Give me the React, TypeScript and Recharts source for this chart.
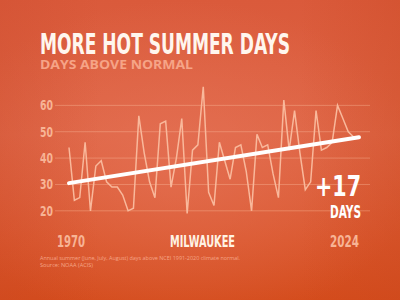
import React from "react";
import { LineChart, Line, XAxis, YAxis, CartesianGrid, ReferenceLine } from "recharts";

const years = [
  1970, 1971, 1972, 1973, 1974, 1975, 1976, 1977, 1978, 1979,
  1980, 1981, 1982, 1983, 1984, 1985, 1986, 1987, 1988, 1989,
  1990, 1991, 1992, 1993, 1994, 1995, 1996, 1997, 1998, 1999,
  2000, 2001, 2002, 2003, 2004, 2005, 2006, 2007, 2008, 2009,
  2010, 2011, 2012, 2013, 2014, 2015, 2016, 2017, 2018, 2019,
  2020, 2021, 2022, 2023, 2024,
];
const daysAboveNormal = [
  44, 24, 25, 46, 20, 37, 39, 31, 29, 29,
  26, 20, 21, 56, 42, 31, 25, 53, 54, 29,
  40, 55, 19, 43, 45, 67, 27, 22, 46, 39,
  32, 44, 45, 35, 20, 49, 44, 45, 34, 25,
  62, 43, 58, 42, 28, 31, 58, 43, 44, 46,
  60, 55, 50, 48, 48,
];
const trendStart = 30.5;
const trendEnd = 47.9;
const yTicks = [20, 30, 40, 50, 60];

const title = "MORE HOT SUMMER DAYS";
const subtitle = "DAYS ABOVE NORMAL";
const city = "MILWAUKEE";
const changeLabel = "+17";
const changeUnit = "DAYS";
const note1 = "Annual summer (June, July, August) days above NCEI 1991-2020 climate normal.";
const note2 = "Source: NOAA (ACIS)";

const data = years.map((y, i) => ({ year: y, days: daysAboveNormal[i] }));

const COND = "'Liberation Sans Narrow', 'DejaVu Sans Condensed', 'Roboto', sans-serif";
const PEACH = "#f7b496";

const YTick = (props: any) => {
  const { x, y, payload } = props;
  return (
    <text x={x} y={y + 5} textAnchor="end" fill={PEACH} fontFamily={COND} fontWeight={700} fontSize={14}
      textLength={13} lengthAdjust="spacingAndGlyphs">
      {payload.value}
    </text>
  );
};

export default function App() {
  return (
    <div style={{ position: "fixed", left: 0, top: 0, width: 400, height: 300, overflow: "hidden",
      background: "linear-gradient(180deg, #da5a3b 0%, #de6443 45%, #d9552a 80%, #d44c1c 100%)" }}>
      <div style={{ position: "absolute", inset: 0,
        background: "radial-gradient(ellipse 60% 55% at 45% 55%, rgba(232,120,95,0.55), rgba(232,120,95,0) 100%)" }} />
      <div style={{ position: "absolute", inset: 0,
        background: "linear-gradient(90deg, rgba(200,70,40,0.25) 0%, rgba(0,0,0,0) 25%, rgba(0,0,0,0) 75%, rgba(200,70,30,0.3) 100%)" }} />
      <div style={{ position: "absolute", left: 0, top: 0 }}>
        <LineChart width={400} height={300} data={data} margin={{ top: 79, right: 30, bottom: 76, left: 25 }}>
          <CartesianGrid vertical={false} horizontalValues={yTicks} stroke="rgba(255,200,170,0.35)" strokeWidth={1} />
          <XAxis dataKey="year" type="number" domain={[1970, 2024]} hide padding={{ left: 14, right: 11 }} />
          <YAxis domain={[15, 70]} ticks={yTicks} width={30} axisLine={false} tickLine={false}
            tickSize={0} tickMargin={2} tick={<YTick />} interval={0} />
          <Line type="linear" dataKey="days" stroke="#f9b89b" strokeWidth={1.5} dot={false}
            isAnimationActive={false} />
          <ReferenceLine segment={[{ x: 1970, y: trendStart }, { x: 2024, y: trendEnd }]}
            stroke="#ffffff" strokeWidth={4} strokeLinecap="round" ifOverflow="visible" />
        </LineChart>
      </div>
      <svg width={400} height={300} style={{ position: "absolute", left: 0, top: 0, pointerEvents: "none" }}>
        <text x={40} y={53.5} fill="#fff6ee" fontFamily={COND} fontWeight={700} fontSize={28}
          textLength={250} lengthAdjust="spacingAndGlyphs">{title}</text>
        <text x={40} y={69} fill="#f6a487" fontFamily="'Open Sans', 'Noto Sans', sans-serif" fontWeight={700} fontSize={12}
          textLength={153} lengthAdjust="spacingAndGlyphs">{subtitle}</text>
        <text x={315} y={195.5} fill="#ffffff" fontFamily={COND} fontWeight={700} fontSize={29}
          textLength={46} lengthAdjust="spacingAndGlyphs">{changeLabel}</text>
        <text x={330} y={217.5} fill="#ffffff" fontFamily={COND} fontWeight={700} fontSize={17}
          textLength={31} lengthAdjust="spacingAndGlyphs">{changeUnit}</text>
        <text x={57} y={246.7} fill={PEACH} fontFamily={COND} fontWeight={700} fontSize={16}
          textLength={28} lengthAdjust="spacingAndGlyphs">{years[0]}</text>
        <text x={170} y={246.7} fill="#fff3e4" fontFamily={COND} fontWeight={700} fontSize={16}
          textLength={65} lengthAdjust="spacingAndGlyphs">{city}</text>
        <text x={330} y={246.7} fill={PEACH} fontFamily={COND} fontWeight={700} fontSize={16}
          textLength={29} lengthAdjust="spacingAndGlyphs">{years[years.length - 1]}</text>
        <text x={40} y={260} fill="#f5a588" fontFamily="'Open Sans', sans-serif" fontSize={5.5}
          textLength={200} lengthAdjust="spacingAndGlyphs">{note1}</text>
        <text x={40} y={267.3} fill="#f5a588" fontFamily="'Open Sans', sans-serif" fontSize={5.5}
          textLength={53} lengthAdjust="spacingAndGlyphs">{note2}</text>
      </svg>
    </div>
  );
}
